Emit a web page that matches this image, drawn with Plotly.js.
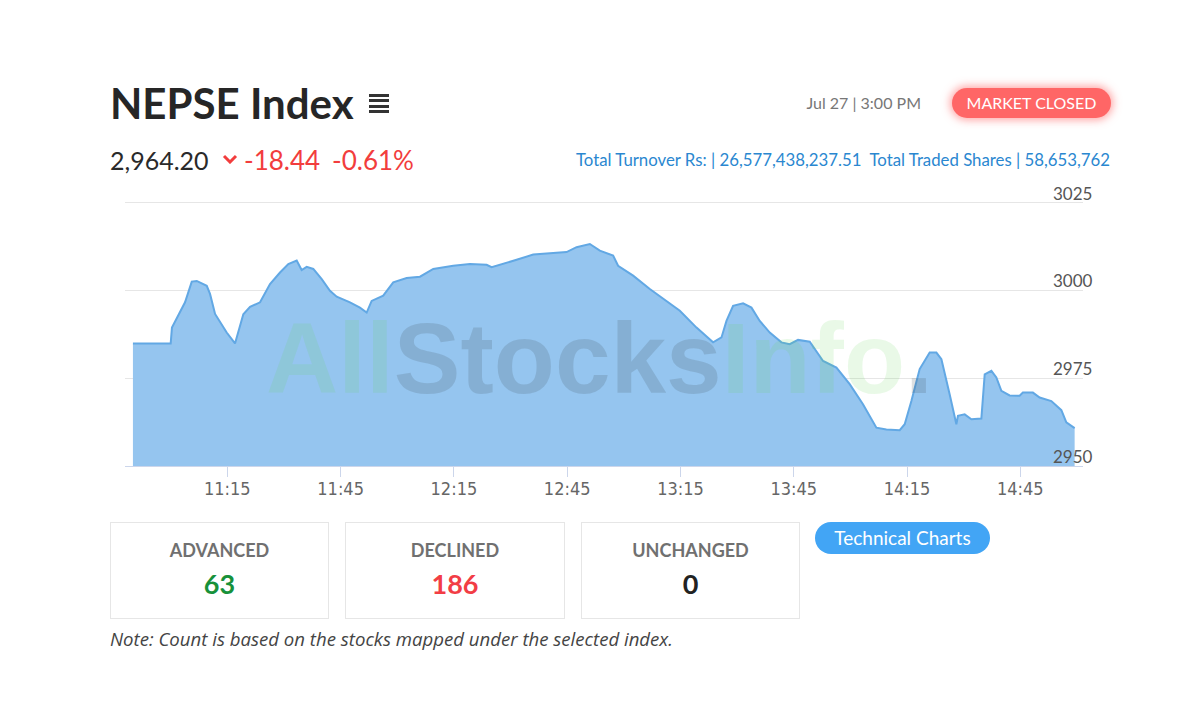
<!DOCTYPE html>
<html>
<head>
<meta charset="utf-8">
<script src="https://cdn.plot.ly/plotly-3.0.1.min.js"></script>
<style>
  html, body { margin:0; padding:0; width:1200px; height:720px; background:#fff; overflow:hidden; font-family: Lato, "Open Sans", sans-serif; }
  #chart { position:absolute; left:0; top:0; width:1200px; height:720px; }
  .abs { position:absolute; white-space:nowrap; }
  #title { left:110px; top:78px; font-size:42px; line-height:50px; font-weight:700; color:#262626; }
  #menu { left:369px; top:94px; width:20px; height:19px; }
  #menu div { height:3px; background:#333; margin-bottom:2.3px; }
  .price { top:145px; font-size:25px; line-height:30px; }
  #chev { left:222px; top:154px; width:16px; height:10px; }
  #date { right:279px; top:93px; font-size:16px; line-height:20px; color:#777; }
  #pill { left:952px; top:88px; width:159px; height:30px; border-radius:15px; background:#ff6666; box-shadow:0 0 8px 2px rgba(255,90,90,0.55); color:#fff; font-size:16px; line-height:30px; text-align:center; }
  #turn { right:90px; top:150px; font-size:16.8px; line-height:20px; color:#2a87d0; }
  .box { position:absolute; top:522px; height:95px; border:1px solid #e6e6e6; text-align:center; }
  .box .lab { margin-top:16px; font-size:18px; line-height:22px; font-weight:700; color:#707070; }
  .box .val { margin-top:8px; font-size:27px; line-height:30px; font-weight:700; }
  #tech { left:815px; top:522px; width:175px; height:32px; border-radius:16px; background:#42a5f5; color:#fff; font-size:19px; line-height:32px; text-align:center; }
  #note { left:110px; top:628px; font-family:"Open Sans", sans-serif; font-size:18.6px; line-height:22px; font-style:italic; color:#444; }
</style>
</head>
<body>
<div id="chart"></div>
<div class="abs" id="title">NEPSE Index</div>
<div class="abs" id="menu"><div></div><div></div><div></div><div></div></div>
<div class="abs price" style="left:110px;color:#2a2a2a;">2,964.20</div>
<svg class="abs" id="chev" viewBox="0 0 16 10"><polyline points="2,2 8,8 14,2" fill="none" stroke="#f23d3d" stroke-width="3"/></svg>
<div class="abs price" style="left:244px;color:#f23d3d;font-size:26px;">-18.44</div>
<div class="abs price" style="left:332px;color:#f23d3d;font-size:26px;">-0.61%</div>
<div class="abs" id="date">Jul 27 | 3:00 PM</div>
<div class="abs" id="pill">MARKET CLOSED</div>
<div class="abs" id="turn">Total Turnover Rs: | 26,577,438,237.51&nbsp;&nbsp;Total Traded Shares | 58,653,762</div>
<div class="box" style="left:110px;width:217px;"><div class="lab">ADVANCED</div><div class="val" style="color:#17913a;">63</div></div>
<div class="box" style="left:345px;width:218px;"><div class="lab">DECLINED</div><div class="val" style="color:#f23d45;">186</div></div>
<div class="box" style="left:581px;width:217px;"><div class="lab">UNCHANGED</div><div class="val" style="color:#222;">0</div></div>
<div class="abs" id="tech">Technical Charts</div>
<div class="abs" id="note">Note: Count is based on the stocks mapped under the selected index.</div>
<script>
const tradeDate = "2023-07-27";
const times = [
  "10:50:00","11:00:00","11:00:20","11:02:00","11:03:48","11:05:35","11:06:54","11:09:33","11:10:25","11:11:45",
  "11:14:50","11:17:02","11:19:14","11:21:01","11:23:40","11:26:18","11:28:57","11:31:09","11:33:22","11:34:41",
  "11:36:01","11:37:46","11:40:00","11:42:11","11:43:58","11:47:29","11:50:07","11:51:54","11:53:13","11:56:17",
  "11:58:56","12:02:29","12:06:01","12:09:32","12:14:49","12:19:14","12:23:40","12:24:59","12:28:03","12:31:36","12:36:00",
  "12:40:25","12:44:50","12:47:29","12:51:00","12:53:39","12:57:10","12:58:29","13:02:28","13:06:53","13:11:18",
  "13:14:50","13:19:15","13:23:38","13:25:52","13:27:11","13:28:56","13:31:35","13:33:48","13:36:00","13:38:39",
  "13:41:44","13:43:56","13:46:08","13:49:14","13:52:46","13:56:18","13:59:49","14:03:20","14:06:53","14:09:32",
  "14:13:04","14:14:23","14:16:09","14:18:21","14:21:00","14:22:46","14:24:06","14:26:17","14:28:04","14:28:29",
  "14:30:16","14:32:02","14:34:41","14:35:34","14:37:20","14:38:39","14:39:59","14:42:10","14:44:49","14:45:41",
  "14:48:20","14:50:07","14:53:13","14:55:52","14:57:11","14:59:23"
];
const indexValues = [
  2984.9,2984.9,2989.4,2992.8,2996.6,3002.5,3002.7,3001.3,2999.0,2993.3,
  2988.0,2984.9,2993.2,2995.3,2996.6,3001.8,3005.1,3007.5,3008.5,3005.8,
  3006.7,3006.1,3003.2,2999.9,2998.2,2996.6,2995.1,2993.7,2997.0,2998.5,
  3002.3,3003.5,3003.9,3006.1,3007.0,3007.5,3007.3,3006.6,3007.5,3008.7,3010.2,
  3010.6,3010.9,3012.3,3013.2,3011.3,3009.9,3007.0,3004.2,3000.4,2997.0,
  2994.2,2989.4,2985.2,2986.6,2991.3,2995.6,2996.3,2995.1,2991.3,2988.0,
  2985.2,2984.7,2985.9,2985.4,2979.9,2978.0,2973.3,2967.6,2960.9,2960.4,
  2960.2,2961.9,2968.5,2977.6,2982.3,2982.3,2980.4,2970.4,2961.9,2964.3,
  2964.7,2963.3,2963.5,2976.1,2977.1,2975.2,2971.4,2970.1,2970.0,2970.9,
  2970.9,2969.5,2968.5,2965.9,2962.4,2960.8
];
const xTickTimes = ["11:15","11:45","12:15","12:45","13:15","13:45","14:15","14:45"];
const yTickValues = [2950, 2975, 3000, 3025];

const xs = times.map(t => tradeDate + " " + t);
const trace = {
  x: xs, y: indexValues, type: "scatter", mode: "lines",
  fill: "tozeroy", fillcolor: "#95c5ef",
  line: { color: "#62a8e4", width: 2 },
  hoverinfo: "skip"
};
const layout = {
  width: 1200, height: 720,
  margin: { l: 125, r: 117, t: 178, b: 254, pad: 0 },
  paper_bgcolor: "rgba(0,0,0,0)", plot_bgcolor: "rgba(0,0,0,0)",
  showlegend: false,
  xaxis: {
    type: "date",
    range: [tradeDate + " 10:47:54", tradeDate + " 15:01:36"],
    tickvals: xTickTimes.map(t => tradeDate + " " + t + ":00"),
    ticktext: xTickTimes,
    showgrid: false, zeroline: false,
    showline: true, linecolor: "#ccd6eb", linewidth: 1,
    ticks: "outside", ticklen: 10, tickcolor: "#ccd6eb", tickwidth: 1,
    ticklabelstandoff: -4,
    tickfont: { family: "DejaVu Sans Condensed, Liberation Sans Narrow, sans-serif", size: 18, color: "#666" },
    fixedrange: true
  },
  yaxis: {
    side: "right",
    range: [2950, 3032],
    tickvals: yTickValues,
    ticktext: yTickValues.map(String),
    showgrid: true, gridcolor: "#e6e6e6", gridwidth: 1,
    zeroline: false, showline: false, ticks: "",
    ticklabelposition: "outside",
    ticklabelstandoff: -31,
    ticklabelshift: -9,
    tickfont: { family: "Lato, sans-serif", size: 17, color: "#555" },
    fixedrange: true
  },
  annotations: [{
    xref: "paper", yref: "paper", x: 0.4957, y: 0.374,
    xanchor: "center", yanchor: "middle", showarrow: false,
    font: { family: "Liberation Sans, Arial, sans-serif", size: 100, color: "rgba(60,70,80,0.4)" },
    text: '<b><span style="color:rgba(100,215,90,0.36)">All</span><span style="color:rgba(60,70,80,0.42)">Stocks</span><span style="color:rgba(100,215,90,0.36)">Info</span><span style="color:rgba(60,70,80,0.42)">.</span></b>'
  }]
};
Plotly.newPlot("chart", [trace], layout, { staticPlot: true, displayModeBar: false });
</script>
</body>
</html>
